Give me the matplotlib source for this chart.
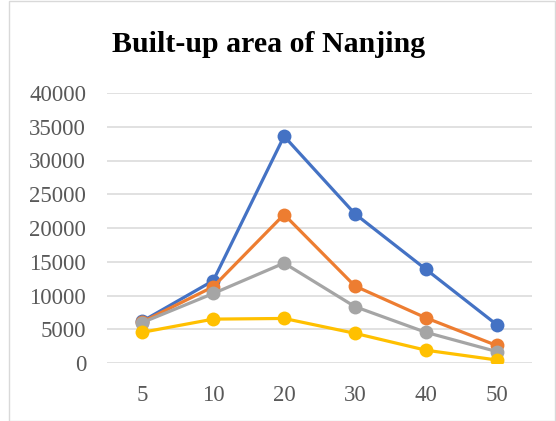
import matplotlib
matplotlib.use("Agg")
import matplotlib.pyplot as plt
from matplotlib.patches import Rectangle

categories = ["5", "10", "20", "30", "40", "50"]
series_1 = [6200, 12200, 33600, 22100, 13900, 5700]
series_2 = [6100, 11300, 22000, 11400, 6700, 2600]
series_3 = [6000, 10300, 14800, 8350, 4550, 1700]
series_4 = [4550, 6500, 6600, 4400, 1900, 450]
y_ticks = [0, 5000, 10000, 15000, 20000, 25000, 30000, 35000, 40000]

colors = ["#4472C4", "#ED7D31", "#A5A5A5", "#FFC000"]

plt.rcParams["font.family"] = ["Liberation Serif", "DejaVu Serif"]

W, H = 556, 421
fig = plt.figure(figsize=(W / 100, H / 100), dpi=100)
fig.patch.set_facecolor("white")

# chart-area frame
fig.patches.append(Rectangle((9 / W, 0.5 / H), (W - 10) / W, (H - 1.5) / H,
                             transform=fig.transFigure, fill=False,
                             edgecolor="#D9D9D9", linewidth=1.0))

ax = fig.add_axes([107 / W, 1 - 363 / H, 425 / W, 270 / H])

x = list(range(len(categories)))
for vals, c in zip([series_1, series_2, series_3, series_4], colors):
    ax.plot(x, vals, color=c, linewidth=2.3, marker="o", markersize=10,
            markeredgewidth=0, solid_capstyle="round", zorder=3)

ax.set_xlim(-0.5, len(categories) - 0.5)
ax.set_ylim(0, 40000)
ax.set_yticks(y_ticks)
ax.set_yticklabels([str(v) for v in y_ticks])
ax.set_xticks(x)
ax.set_xticklabels(categories)
ax.yaxis.grid(True, color="#D9D9D9", linewidth=1.1)
ax.set_axisbelow(True)
for s in ax.spines.values():
    s.set_visible(False)
ax.tick_params(axis="both", length=0, labelsize=16.5, colors="#595959")
ax.tick_params(axis="y", pad=15)
ax.tick_params(axis="x", pad=16)
ax.set_facecolor("none")

fig.text(268.5 / W, 1 - 45 / H, "Built-up area of Nanjing", ha="center",
         va="center", fontsize=21.5, fontweight="bold", color="black")

fig.savefig("out.png", dpi=100)
